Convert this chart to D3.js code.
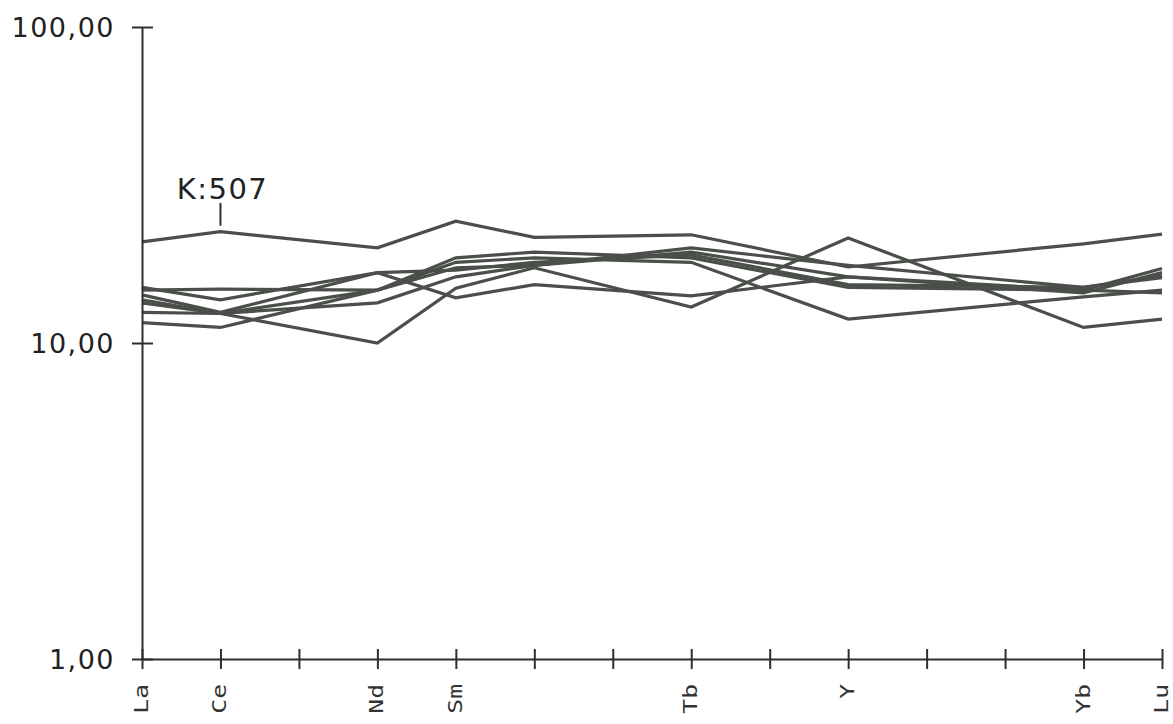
<!DOCTYPE html>
<html><head><meta charset="utf-8">
<script src="https://cdn.jsdelivr.net/npm/d3@7"></script>
<style>
html,body{margin:0;padding:0;background:#fff;}
svg{display:block;}
</style></head>
<body>
<svg id="chart" width="1173" height="724"></svg>
<script>
// x positions (all ticks) and the labels shown under them
const tickSlots = ["La","Ce","Pr","Nd","Sm","Eu","Gd","Tb","Dy","Y","Ho","Er","Yb","Lu"];
const tickLabels = ["La","Ce","","Nd","Sm","","","Tb","","Y","","","Yb","Lu"];
// elements with data
const elements = ["La","Ce","Nd","Sm","Eu","Tb","Y","Yb","Lu"];
// series values (normalised concentrations)
const sK507 = [20.9, 22.5, 20.0, 24.3, 21.6, 22.0, 17.4, 20.6, 22.1];
const s2 = [13.4, 12.4, 10.0, 14.9, 17.3, 13.0, 21.5, 11.2, 11.9];
const s3 = [15.0, 13.7, 16.7, 13.9, 15.3, 14.1, 16.2, 14.7, 17.2];
const s4 = [13.7, 12.4, 14.7, 18.0, 18.6, 18.0, 11.9, 14.0, 14.7];
const s5 = [11.6, 11.2, 14.7, 17.3, 17.6, 20.0, 17.6, 15.0, 16.3];
const s6 = [14.7, 14.8, 14.7, 18.6, 19.4, 18.6, 15.0, 14.7, 14.4];
const s7 = [12.5, 12.4, 13.4, 16.2, 17.6, 19.4, 16.2, 14.4, 16.7];
const s8 = [14.2, 12.5, 16.7, 17.0, 18.0, 19.0, 15.3, 15.0, 16.1];
const seriesList = [sK507, s2, s3, s4, s5, s6, s7, s8];
const yTickValues = [1, 10, 100];
const yTickLabels = ["1,00", "10,00", "100,00"];
const annotation = "K:507";

const svg = d3.select("#chart");
const x = d3.scalePoint().domain(tickSlots).range([142, 1162]);
const y = d3.scaleLog().domain([1, 100]).range([659, 27]);

const lineColor = "#4a4f49";
const axisColor = "#2e2e2e";

// lines
const line = d3.line().x((d,i)=>x(elements[i])).y(d=>y(d));
svg.append("g").selectAll("path").data(seriesList).join("path")
  .attr("d", d=>line(d))
  .attr("fill","none")
  .attr("stroke", lineColor)
  .attr("stroke-width", 3.2)
  .attr("stroke-linejoin","miter");

// y axis
const yAxis = d3.axisLeft(y).tickValues(yTickValues)
  .tickFormat((d,i)=>yTickLabels[i]).tickSizeInner(10).tickSizeOuter(0).tickPadding(0);
const gy = svg.append("g").attr("transform","translate(142,0)").call(yAxis);
gy.select(".domain").attr("stroke",axisColor).attr("stroke-width",2);
gy.selectAll(".tick line").attr("x1",-10).attr("x2",11).attr("stroke",axisColor).attr("stroke-width",2);
gy.selectAll(".tick text").attr("x",-27).attr("dy","0.36em")
  .attr("font-family","'DejaVu Sans', sans-serif").attr("font-size",27)
  .attr("letter-spacing","1.5px").attr("fill","#222").attr("text-anchor","end");

// x axis
const xAxis = d3.axisBottom(x).tickFormat((d,i)=>tickLabels[i]).tickSizeInner(10).tickSizeOuter(0).tickPadding(0);
const gx = svg.append("g").attr("transform","translate(0,659)").call(xAxis);
gx.select(".domain").attr("stroke",axisColor).attr("stroke-width",2);
gx.selectAll(".tick line").attr("y1",-10).attr("y2",10).attr("stroke",axisColor).attr("stroke-width",2);
gx.selectAll(".tick text")
  .attr("y",0).attr("dy",0)
  .attr("transform","translate(-1,25) rotate(-90) scale(1.3,1)")
  .attr("text-anchor","end")
  .attr("dominant-baseline","central")
  .attr("font-family","'DejaVu Sans Mono', monospace")
  .attr("font-size",19)
  .attr("fill","#333");

// annotation
const ax = x("Ce");
svg.append("line").attr("x1",ax).attr("x2",ax)
  .attr("y1",203).attr("y2",y(sK507[1])-6)
  .attr("stroke",axisColor).attr("stroke-width",2);
svg.append("text").attr("x",ax+2).attr("y",199).attr("text-anchor","middle")
  .attr("font-family","'DejaVu Sans', sans-serif").attr("font-size",29)
  .attr("letter-spacing","1.5px").attr("fill","#222").text(annotation);
</script>
</body></html>
